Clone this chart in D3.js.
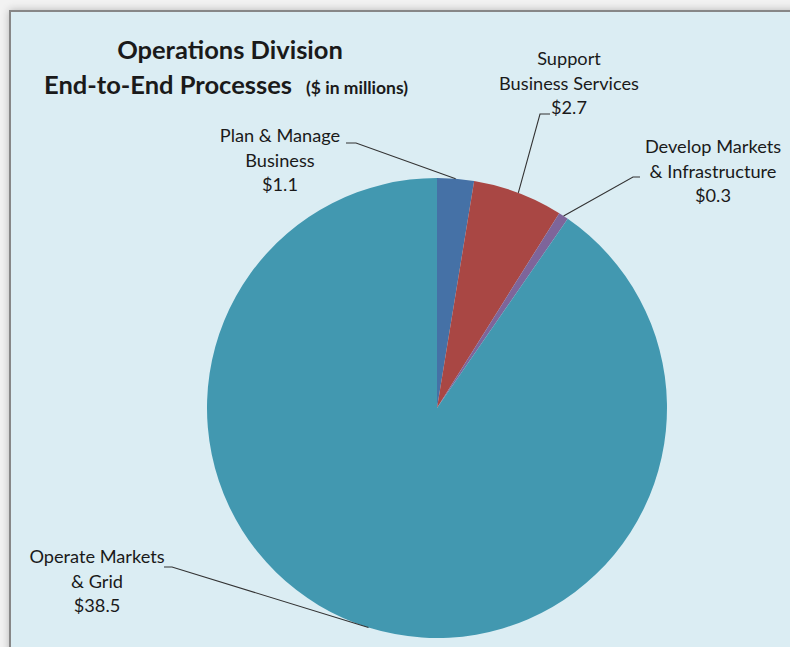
<!DOCTYPE html>
<html>
<head>
<meta charset="utf-8">
<script src="https://cdn.jsdelivr.net/npm/d3@7"></script>
<style>
  html, body { margin: 0; padding: 0; background: #f2f2f2; }
  svg { display: block; }
  text { font-family: Lato, "Open Sans", "Noto Sans", sans-serif; fill: #1a1a1a; }
</style>
</head>
<body>
<svg id="chart" width="790" height="647"></svg>
<script>
// Spending by end-to-end process, $ in millions
const categories = ["Plan & Manage Business", "Support Business Services", "Develop Markets & Infrastructure", "Operate Markets & Grid"];
const values = [1.1, 2.7, 0.3, 38.5];
const valueLabels = ["$1.1", "$2.7", "$0.3", "$38.5"];
const labelLines = [
  ["Plan & Manage", "Business"],
  ["Support", "Business Services"],
  ["Develop Markets", "& Infrastructure"],
  ["Operate Markets", "& Grid"]
];
const colors = ["#4571a6", "#a94744", "#7e659a", "#4298b0"];

const svg = d3.select("#chart");

// Chart frame with a soft drop shadow
const defs = svg.append("defs");
const shadow = defs.append("filter").attr("id", "shadow")
  .attr("x", "-5%").attr("y", "-5%").attr("width", "110%").attr("height", "110%");
shadow.append("feGaussianBlur").attr("in", "SourceAlpha").attr("stdDeviation", 4);
shadow.append("feComponentTransfer").append("feFuncA").attr("type", "linear").attr("slope", 0.25);
const merge = shadow.append("feMerge");
merge.append("feMergeNode");
merge.append("feMergeNode").attr("in", "SourceGraphic");

svg.append("rect")
  .attr("x", 10).attr("y", 11).attr("width", 800).attr("height", 660)
  .attr("fill", "#dbedf3").attr("stroke", "#878787").attr("stroke-width", 2)
  .attr("filter", "url(#shadow)");

// Title
svg.append("text").attr("x", 230).attr("y", 59).attr("text-anchor", "middle")
  .attr("font-size", 25.5).attr("font-weight", "bold").text("Operations Division");
const t2 = svg.append("text").attr("x", 44).attr("y", 94)
  .attr("font-size", 25.5).attr("font-weight", "bold");
t2.append("tspan").text("End-to-End Processes");
t2.append("tspan").attr("font-size", 17.5).attr("dx", 14).text("($ in millions)");

// Pie
const cx = 437, cy = 408, r = 230;
const pie = d3.pie().sort(null).value(d => d)(values);
const arc = d3.arc().innerRadius(0).outerRadius(r);
const g = svg.append("g").attr("transform", `translate(${cx},${cy})`);
g.selectAll("path").data(pie).join("path")
  .attr("d", arc)
  .attr("fill", (d, i) => colors[i]);

// Labels: text block centre and leader elbow for each slice
const labelPos = [
  { x: 280, y: 142, elbow: [[346, 143], [356, 143]] },
  { x: 569, y: 65,  elbow: [[550, 114], [540, 114]] },
  { x: 713, y: 153, elbow: [[640, 177], [633, 177]] },
  { x: 97,  y: 563, elbow: [[164, 567], [172, 567]] }
];
const lineH = 24.5;

pie.forEach((d, i) => {
  const p = labelPos[i];
  const lines = labelLines[i].concat([valueLabels[i]]);
  const txt = svg.append("text").attr("text-anchor", "middle").attr("font-size", 18.2);
  lines.forEach((s, k) => {
    txt.append("tspan").attr("x", p.x).attr("y", p.y + k * lineH).text(s);
  });
  // Leader line from the label to the slice edge
  const mid = (d.startAngle + d.endAngle) / 2;
  const edge = [cx + r * Math.sin(mid), cy - r * Math.cos(mid)];
  svg.append("path")
    .attr("d", d3.line()([p.elbow[0], p.elbow[1], edge]))
    .attr("fill", "none").attr("stroke", "#333").attr("stroke-width", 1.1);
});
</script>
</body>
</html>
